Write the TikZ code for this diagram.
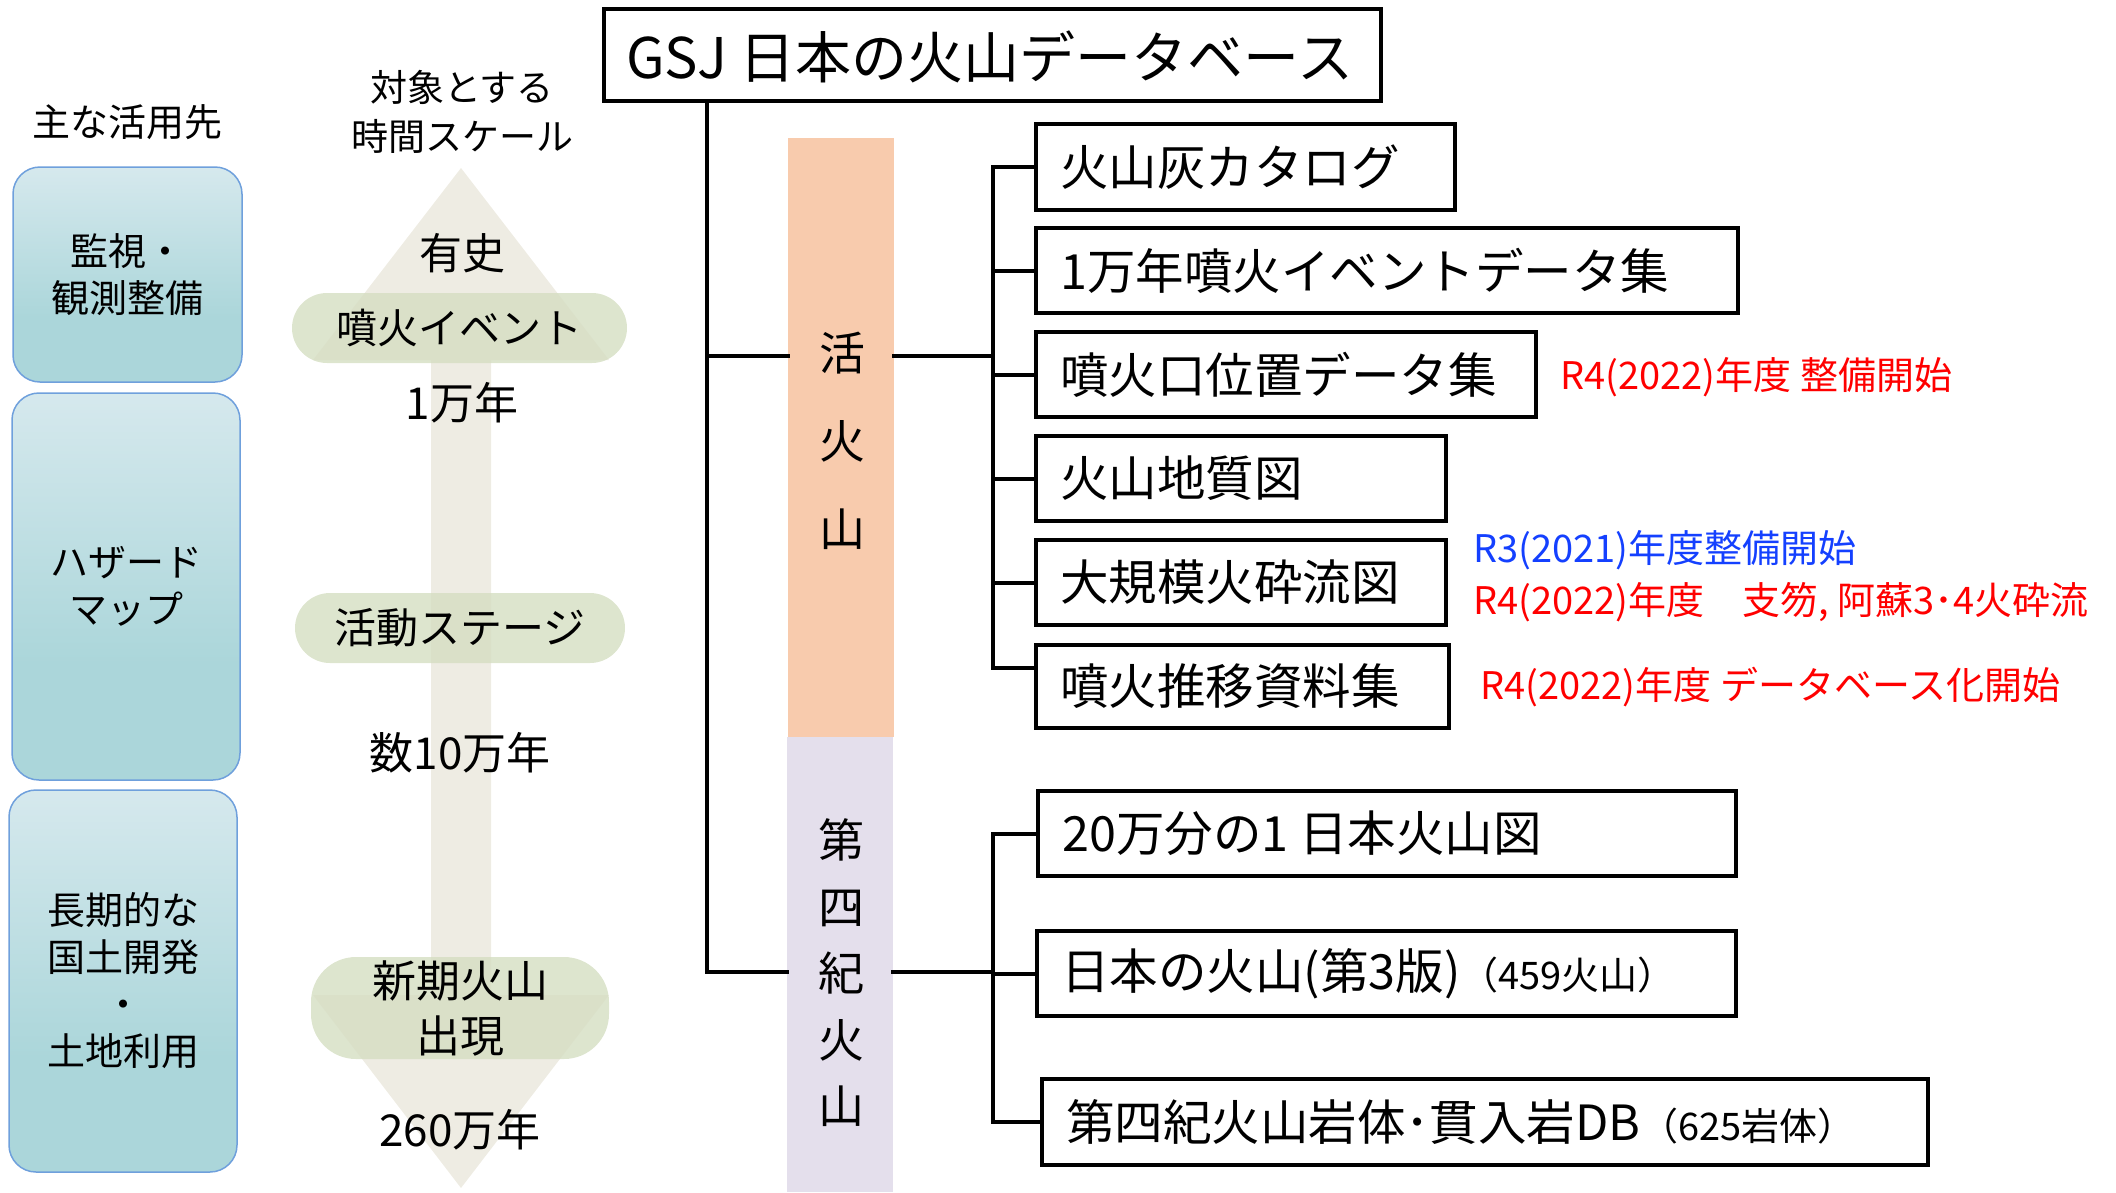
\documentclass[tikz,border=0pt]{standalone}
\usepackage{fontspec}
\setmainfont{Noto Sans CJK JP}
\definecolor{orangebar}{HTML}{F8CBAD}
\definecolor{purplebar}{HTML}{E4DFEC}
\definecolor{arrowc}{HTML}{EEECE3}
\definecolor{pillc}{HTML}{D5DEC2}
\definecolor{tealb}{HTML}{ABD6DA}
\definecolor{tealt}{HTML}{F4F6FB}
\definecolor{useborder}{HTML}{6FA0DC}
\definecolor{annblue}{HTML}{1440FF}
\definecolor{annred}{HTML}{FF0000}
\pgfdeclareverticalshading{usegrad}{100bp}{color(0bp)=(tealb); color(40bp)=(tealb); color(100bp)=(tealt)}
\newcommand\myfs[2]{\fontsize{#1}{#2}\selectfont}
\tikzset{
  usebox/.style={shade, shading=usegrad, draw=useborder, line width=1.5pt, rounded corners=27pt, align=center, font=\myfs{38}{47}, inner sep=0pt},
  pill/.style={fill=pillc, fill opacity=0.8, text opacity=1, rounded corners=35pt, align=center, inner sep=0pt},
  dbbox/.style={draw=black, line width=4pt, inner sep=0pt},
  dbtext/.style={anchor=west, font=\myfs{48.5}{56}, inner sep=0pt},
  conn/.style={line width=4pt, black, line cap=rect},
  ann/.style={anchor=west, font=\myfs{38}{44}, inner sep=0pt},
  lbl/.style={align=center, inner sep=0pt},
  bartext/.style={align=center, inner sep=0pt},
}
\begin{document}
\begin{tikzpicture}[x=1pt,y=-1pt]
\useasboundingbox (0,0) rectangle (2116,1192);

% left column
\node[lbl, font=\myfs{38}{47}] (hdrL) at (127,122) {主な活用先};
\node[usebox, minimum width=229pt, minimum height=215pt] (u1) at (127.5,274.5) {監視・\\観測整備};
\node[usebox, minimum width=228pt, minimum height=387pt] (u2) at (126,586.5) {ハザード\\マップ};
\node[usebox, minimum width=228pt, minimum height=382pt] (u3) at (123,981) {長期的な\\国土開発\\・\\土地利用};

% timeline
\node[lbl, font=\myfs{37}{49}] (hdrT) at (462,112) {対象とする\\時間スケール};
\fill[arrowc] (461,168) -- (609,360) -- (491,360) -- (491,995) -- (609,995) -- (461,1188) -- (313,995) -- (431,995) -- (431,360) -- (313,360) -- cycle;
\node[lbl, font=\myfs{43}{50}] (yushi) at (462,253) {有史};
\node[pill, font=\myfs{41}{48}, minimum width=335pt, minimum height=70pt] (p1) at (459.5,328) {噴火イベント};
\node[lbl, font=\myfs{44}{50}] (y1) at (462,403) {1万年};
\node[pill, font=\myfs{42}{48}, minimum width=330pt, minimum height=70pt] (p2) at (460,628) {活動ステージ};
\node[lbl, font=\myfs{44}{50}] (y2) at (460,753) {数10万年};
\node[pill, font=\myfs{44}{55}, rounded corners=45pt, minimum width=298pt, minimum height=102pt] (p3) at (460,1008) {新期火山\\出現};
\node[lbl, font=\myfs{44}{50}] (y3) at (460,1130) {260万年};

% title
\node[dbbox, minimum width=777pt, minimum height=92pt] (gsj) at (992.5,55) {};
\node[anchor=west, inner sep=0pt, font=\myfs{56}{60}] (gsjt) at (626,57) {GSJ 日本の火山データベース};

% bars
\node[fill=orangebar, inner sep=0pt, minimum width=106pt, minimum height=599pt] (abar) at (841,437.5) {};
\node[fill=purplebar, inner sep=0pt, minimum width=106pt, minimum height=455pt] (qbar) at (840,964.5) {};
\node[bartext, font=\myfs{46}{88}] (abart) at (842,441) {活\\火\\山};
\node[bartext, font=\myfs{46}{66.5}] (qbart) at (841,973) {第\\四\\紀\\火\\山};

% active boxes
\node[dbbox, minimum width=419pt, minimum height=86pt] (b1) at (1245.5,167) {};
\node[dbbox, minimum width=702pt, minimum height=85pt] (b2) at (1387,270.5) {};
\node[dbbox, minimum width=500pt, minimum height=85pt] (b3) at (1286,374.5) {};
\node[dbbox, minimum width=410pt, minimum height=85pt] (b4) at (1241,478.5) {};
\node[dbbox, minimum width=410pt, minimum height=85pt] (b5) at (1241,582.5) {};
\node[dbbox, minimum width=413pt, minimum height=83pt] (b6) at (1242.5,686.5) {};
\node[dbtext] (t1) at ([xshift=26pt]b1.west) {火山灰カタログ};
\node[dbtext] (t2) at ([xshift=26pt]b2.west) {1万年噴火イベントデータ集};
\node[dbtext] (t3) at ([xshift=26pt]b3.west) {噴火口位置データ集};
\node[dbtext] (t4) at ([xshift=26pt]b4.west) {火山地質図};
\node[dbtext] (t5) at ([xshift=26pt]b5.west) {大規模火砕流図};
\node[dbtext] (t6) at ([xshift=26pt]b6.west) {噴火推移資料集};

% quaternary boxes
\node[dbbox, minimum width=698pt, minimum height=85pt] (b7) at (1387,833.5) {};
\node[dbbox, minimum width=699pt, minimum height=85pt] (b8) at (1386.5,973.5) {};
\node[dbbox, minimum width=886pt, minimum height=86pt] (b9) at (1485,1122) {};
\node[dbtext] (t7) at ([xshift=26pt]b7.west) {20万分の1 日本火山図};
\node[dbtext] (t8) at ([xshift=26pt]b8.west) {日本の火山(第3版)\myfs{38}{44}（459火山）};
\node[dbtext] (t9) at ([xshift=26pt]b9.west) {第四紀火山岩体･貫入岩DB\myfs{38}{44}（625岩体）};

% annotations
\node[ann, text=annred] (a1) at (1560,377) {R4(2022)年度 整備開始};
\node[ann, text=annblue] (a2) at (1473,550) {R3(2021)年度整備開始};
\node[ann, text=annred] (a3) at (1473,602) {R4(2022)年度　支笏, 阿蘇3･4火砕流};
\node[ann, text=annred] (a4) at (1480,687) {R4(2022)年度 データベース化開始};

% connectors
\coordinate (tx) at (707,0);
\coordinate (aj) at (707,356);
\coordinate (qj) at (707,972);
\coordinate (asub) at (993,356);
\coordinate (qsub) at (993,972);
\coordinate (b6j) at ([yshift=19pt]b6.west);
\draw[conn] (gsj.south -| tx) -- (qj) -- (qj -| qbar.west);
\draw[conn] (aj) -- (aj -| abar.west);
\draw[conn] (asub -| abar.east) -- (asub);
\draw[conn] (b1.west -| asub) -- (b6j -| asub);
\foreach \b in {b1,b2,b3,b4,b5} \draw[conn] (\b.west -| asub) -- (\b.west);
\draw[conn] (b6j -| asub) -- (b6j);
\draw[conn] (qsub -| qbar.east) -- (qsub);
\draw[conn] (b7.west -| qsub) -- (b9.west -| qsub);
\foreach \b in {b7,b8,b9} \draw[conn] (\b.west -| qsub) -- (\b.west);
\end{tikzpicture}
\end{document}
